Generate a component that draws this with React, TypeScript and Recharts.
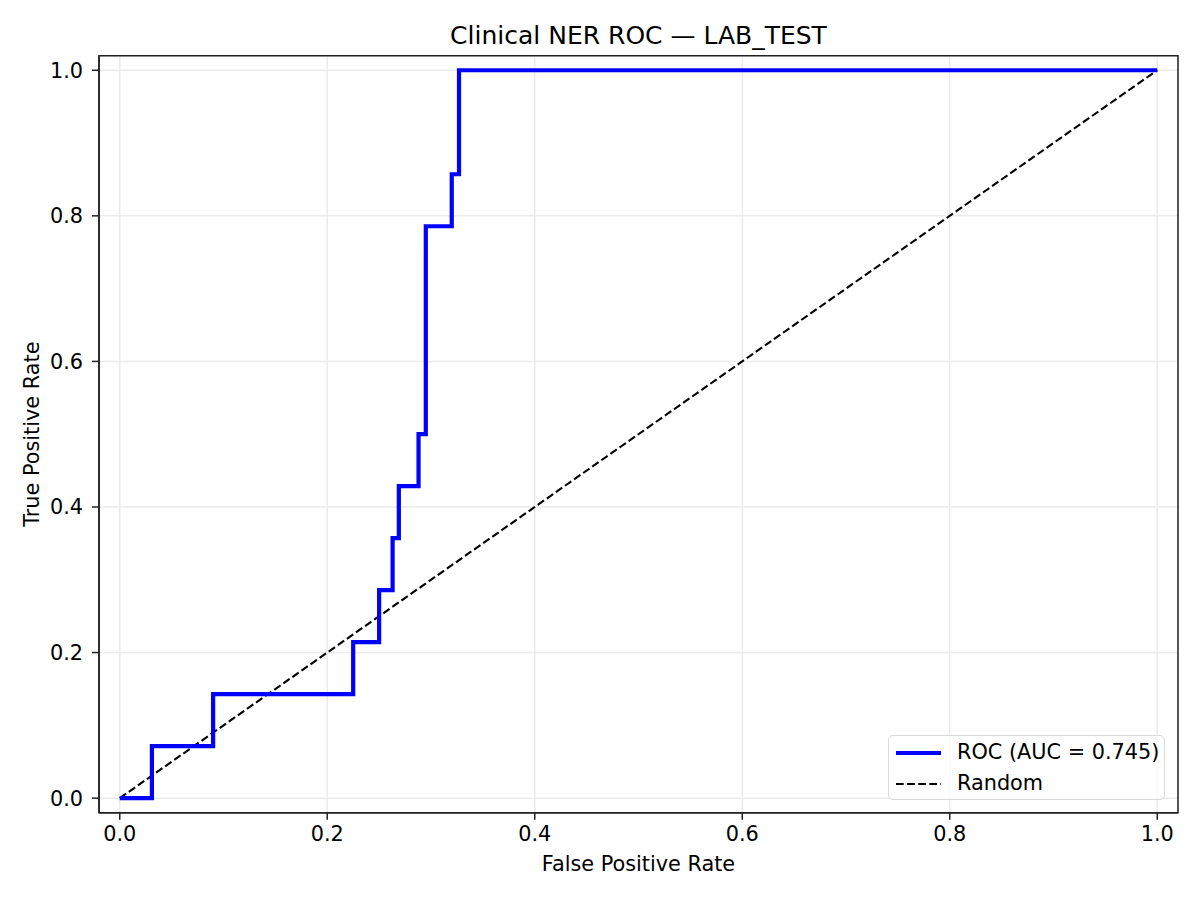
import React from 'react';
import { LineChart, Line, XAxis, YAxis, CartesianGrid, ReferenceArea } from 'recharts';

// ROC curve corners
const ROC_FPR = [0, 0.031, 0.031, 0.09, 0.09, 0.225, 0.225, 0.25, 0.25, 0.263, 0.263, 0.269, 0.269, 0.288, 0.288, 0.295, 0.295, 0.32, 0.32, 0.327, 0.327, 1.0];
const ROC_TPR = [0, 0, 0.0714, 0.0714, 0.1429, 0.1429, 0.2143, 0.2143, 0.2857, 0.2857, 0.3571, 0.3571, 0.4286, 0.4286, 0.5, 0.5, 0.7857, 0.7857, 0.8571, 0.8571, 1.0, 1.0];

const RANDOM_X = [0, 1];
const RANDOM_Y = [0, 1];

const TICKS = [0, 0.2, 0.4, 0.6, 0.8, 1.0];
const DOMAIN: [number, number] = [-0.02, 1.02];

const ROC_LABEL = 'ROC (AUC = 0.745)';
const RANDOM_LABEL = 'Random';

const FONT = '"DejaVu Sans", sans-serif';
const FS = 20.8;

const rocData = ROC_FPR.map((x, i) => ({ x, y: ROC_TPR[i] }));
const randomData = RANDOM_X.map((x, i) => ({ x, y: RANDOM_Y[i] }));

const LegendBox = () => (
  <div
    style={{
      position: 'absolute',
      left: 880,
      top: 727,
      width: 277,
      height: 65,
      boxSizing: 'border-box',
      border: '1.5px solid #d9d9d9',
      borderRadius: 5,
      background: 'rgba(255,255,255,0.8)',
      padding: '1px 0 0 7px',
      fontFamily: FONT,
      fontSize: FS,
      lineHeight: '31px',
      color: '#000',
    }}
  >
    <div style={{ display: 'flex', alignItems: 'center', height: 31 }}>
      <svg width={45} height={10} style={{ marginRight: 16 }}>
        <line x1={0} y1={5} x2={45} y2={5} stroke="#0000ff" strokeWidth={4.2} />
      </svg>
      <span>{ROC_LABEL}</span>
    </div>
    <div style={{ display: 'flex', alignItems: 'center', height: 31 }}>
      <svg width={45} height={10} style={{ marginRight: 16 }}>
        <line x1={0} y1={5} x2={45} y2={5} stroke="#000" strokeWidth={2.1} strokeDasharray="7.7 3.4" />
      </svg>
      <span>{RANDOM_LABEL}</span>
    </div>
  </div>
);

const App: React.FC = () => {
  return (
    <div style={{ position: 'relative', width: 1192, height: 892, background: '#fff', fontFamily: FONT }}>
      <div
        style={{
          position: 'absolute',
          left: 91,
          width: 1079,
          top: 13,
          lineHeight: '30px',
          textAlign: 'center',
          fontSize: 25,
          color: '#000',
        }}
      >
        Clinical NER ROC — LAB_TEST
      </div>
      <LineChart width={1192} height={892} margin={{ top: 47.7, right: 22, left: 0, bottom: 0 }}>
        <CartesianGrid stroke="#ebebeb" strokeWidth={1.5} />
        <XAxis
          type="number"
          dataKey="x"
          domain={DOMAIN}
          ticks={TICKS}
          allowDataOverflow
          height={87.3}
          tickFormatter={(v: number) => v.toFixed(1)}
          tick={{ fill: '#000', fontSize: FS, fontFamily: FONT }}
          tickLine={{ stroke: '#222', strokeWidth: 1.5 }}
          tickSize={7}
          tickMargin={7}
          axisLine={{ stroke: '#222', strokeWidth: 1.5 }}
          label={{ value: 'False Positive Rate', position: 'insideBottom', offset: 29, fill: '#000', fontSize: FS, fontFamily: FONT }}
        />
        <YAxis
          type="number"
          dataKey="y"
          domain={DOMAIN}
          ticks={TICKS}
          allowDataOverflow
          width={91}
          tickFormatter={(v: number) => v.toFixed(1)}
          tick={{ fill: '#000', fontSize: FS, fontFamily: FONT }}
          tickLine={{ stroke: '#222', strokeWidth: 1.5 }}
          tickSize={7}
          tickMargin={9}
          axisLine={{ stroke: '#222', strokeWidth: 1.5 }}
          label={{ value: 'True Positive Rate', angle: -90, position: 'insideLeft', offset: 24, fill: '#000', fontSize: FS, fontFamily: FONT, style: { textAnchor: 'middle' } }}
        />
        <ReferenceArea x1={DOMAIN[0]} x2={DOMAIN[1]} y1={DOMAIN[0]} y2={DOMAIN[1]} fill="none" fillOpacity={0} stroke="#222" strokeWidth={1.5} />
        <Line
          data={randomData}
          dataKey="y"
          type="linear"
          stroke="#000"
          strokeWidth={2.1}
          strokeDasharray="7.7 3.4"
          dot={false}
          activeDot={false}
          isAnimationActive={false}
        />
        <Line
          data={rocData}
          dataKey="y"
          type="linear"
          stroke="#0000ff"
          strokeWidth={4.2}
          dot={false}
          activeDot={false}
          isAnimationActive={false}
        />
      </LineChart>
      <LegendBox />
    </div>
  );
};

export default App;
